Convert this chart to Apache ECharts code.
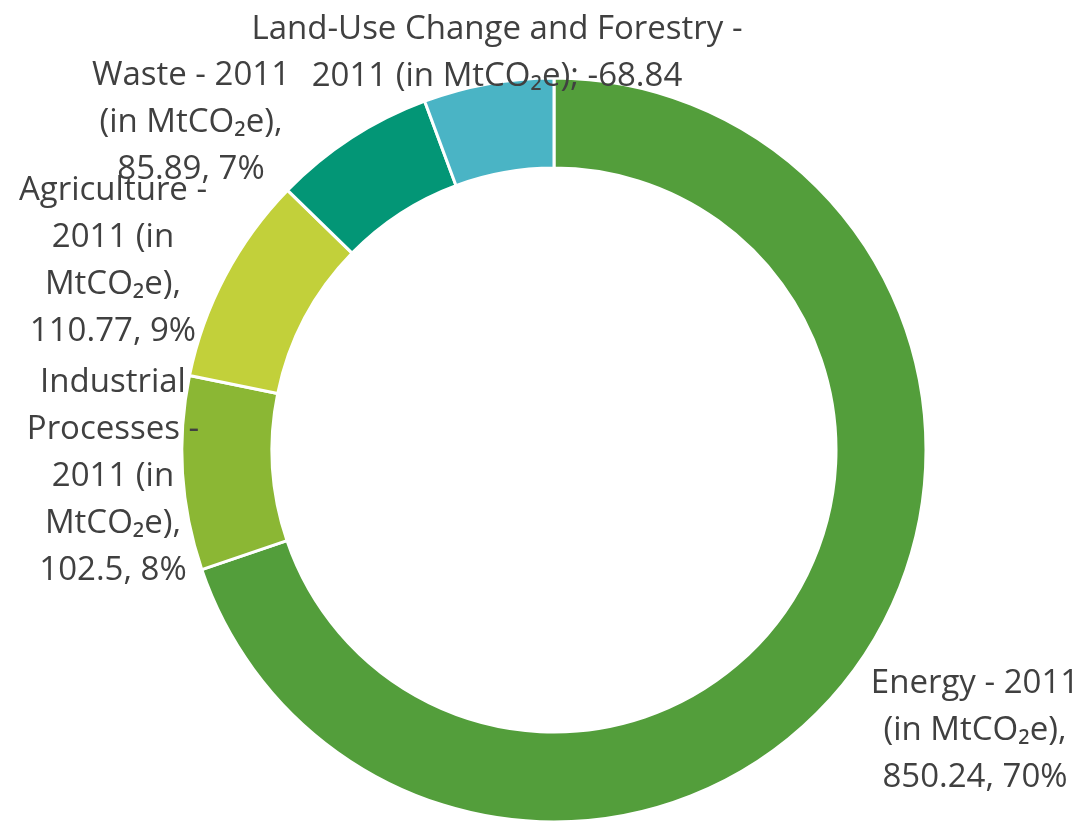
<!DOCTYPE html>
<html><head><meta charset="utf-8">
<script src="https://cdn.jsdelivr.net/npm/echarts@6/dist/echarts.min.js"></script>
<style>html,body{margin:0;padding:0;background:#fff}#c{width:1088px;height:822px}</style>
</head><body><div id="c"></div>
<script>
const categories = ['Energy', 'Industrial Processes', 'Agriculture', 'Waste', 'Land-Use Change and Forestry'];
const values2011 = [850.24, 102.5, 110.77, 85.89, -68.84];
const labelTexts = [
  'Energy - 2011\n(in MtCO₂e),\n850.24, 70%',
  'Industrial\nProcesses -\n2011 (in\nMtCO₂e),\n102.5, 8%',
  'Agriculture -\n2011 (in\nMtCO₂e),\n110.77, 9%',
  'Waste - 2011\n(in MtCO₂e),\n85.89, 7%',
  'Land-Use Change and Forestry -\n2011 (in MtCO₂e); -68.84'
];
const colors = ['#539E3B', '#8BB734', '#C2D03A', '#039676', '#4AB4C5'];
const labelPos = [[975, 731], [113, 477], [113, 261], [191, 123], [497, 53]];

const chart = echarts.init(document.getElementById('c'));
chart.setOption({
  animation: false,
  series: [{
    type: 'pie',
    center: [554, 450],
    radius: [282, 372],
    startAngle: 90,
    clockwise: true,
    avoidLabelOverlap: false,
    itemStyle: { borderColor: '#fff', borderWidth: 3 },
    label: {
      show: true, position: 'outside',
      formatter: p => labelTexts[p.dataIndex],
      color: '#404040', fontFamily: 'Open Sans', fontSize: 33, lineHeight: 47, align: 'center'
    },
    labelLine: { show: false },
    labelLayout: p => ({ x: labelPos[p.dataIndex][0], y: labelPos[p.dataIndex][1], align: 'center', verticalAlign: 'middle' }),
    data: categories.map((c, i) => ({ name: c, value: Math.abs(values2011[i]), itemStyle: { color: colors[i] } }))
  }]
});
</script></body></html>
